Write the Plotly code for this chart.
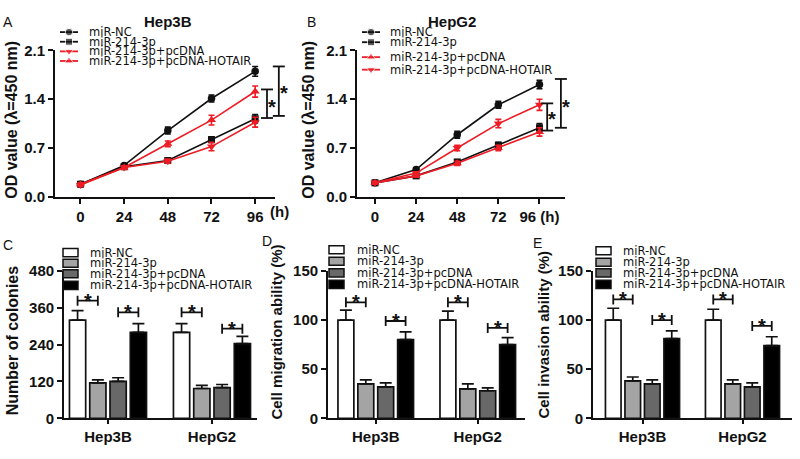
import plotly.graph_objects as go

W, H = 800, 459
FONT = "Arial, Liberation Sans, sans-serif"
LEGFONT = "DejaVu Sans, Verdana, sans-serif"
INK = "#111111"
RED = "#ee1c24"

# ---------------- data ----------------
hours = [0, 24, 48, 72, 96]
hour_labels_a = ["0", "24", "48", "72", "96"]
hour_labels_b = ["0", "24", "48", "72", "96 (h)"]
groups = ["miR-NC", "miR-214-3p", "miR-214-3p+pcDNA", "miR-214-3p+pcDNA-HOTAIR"]

# Panel A (Hep3B, OD 450 nm)
a_nc = [0.18, 0.45, 0.95, 1.41, 1.80]
a_nc_err = [0.02, 0.02, 0.05, 0.05, 0.07]
a_214 = [0.18, 0.43, 0.52, 0.82, 1.12]
a_214_err = [0.02, 0.02, 0.03, 0.04, 0.06]
a_pc = [0.17, 0.42, 0.51, 0.72, 1.07]
a_pc_err = [0.02, 0.02, 0.03, 0.06, 0.07]
a_hot = [0.18, 0.42, 0.76, 1.10, 1.51]
a_hot_err = [0.02, 0.02, 0.04, 0.07, 0.08]

# Panel B (HepG2, OD 450 nm)
b_nc = [0.20, 0.39, 0.89, 1.32, 1.61]
b_nc_err = [0.02, 0.02, 0.05, 0.05, 0.06]
b_214 = [0.20, 0.30, 0.50, 0.74, 0.99]
b_214_err = [0.02, 0.02, 0.03, 0.04, 0.06]
b_pc = [0.20, 0.30, 0.48, 0.70, 0.93]
b_pc_err = [0.02, 0.02, 0.03, 0.04, 0.06]
b_hot = [0.20, 0.34, 0.70, 1.05, 1.32]
b_hot_err = [0.02, 0.02, 0.04, 0.06, 0.08]

cells = ["Hep3B", "HepG2"]
# Panel C: number of colonies  [miR-NC, miR-214-3p, +pcDNA, +pcDNA-HOTAIR]
c_hep3b = [320, 115, 120, 280]
c_hep3b_err = [31, 10, 12, 28]
c_hepg2 = [280, 97, 100, 243]
c_hepg2_err = [28, 10, 10, 24]
# Panel D: cell migration ability (%)
d_hep3b = [100, 35, 32, 80]
d_hep3b_err = [10, 4, 4, 8]
d_hepg2 = [100, 30, 28, 75]
d_hepg2_err = [9, 5, 3, 7]
# Panel E: cell invasion ability (%)
e_hep3b = [100, 38, 35, 81]
e_hep3b_err = [12, 4, 4, 8]
e_hepg2 = [100, 35, 32, 74]
e_hepg2_err = [11, 4, 4, 9]

# significance brackets for bar panels: heights [Hep3B pair1, Hep3B pair2, HepG2 pair1, HepG2 pair2]
c_sig = [383, 345, 345, 292]
d_sig = [118, 99, 118, 92]
e_sig = [121, 100, 121, 94]

# significance brackets for line panels: (x in hours, y0, y1, star x, star y)
a_brackets = [(102.5, 1.13, 1.54, 105.3, 1.35), (109.0, 1.16, 1.87, 111.8, 1.55)]
b_brackets = [(100.5, 0.95, 1.34, 103.3, 1.17), (108.5, 0.99, 1.69, 111.6, 1.34)]

bar_colors = ["#ffffff", "#a4a4a4", "#686868", "#000000"]

# ---------------- helpers ----------------
def xdom(a, b):
    return [a / W, b / W]

def ydom(top, bottom):
    return [1 - bottom / H, 1 - top / H]

def px(p):
    return p / W

def py(p):
    return 1 - p / H

fig = go.Figure()

LW = 1.8
tickfont = dict(family=FONT, size=15, color=INK, weight="bold")
axis_common = dict(showline=True, linecolor=INK, linewidth=LW, ticks="outside",
                   ticklen=5, tickwidth=LW, tickcolor=INK, showgrid=False,
                   zeroline=False, tickfont=tickfont, fixedrange=True)

# ---------------- line panels ----------------
def add_lines(xa, ya, series, markers):
    for (vals, errs), (sym, color, size) in zip(series, markers):
        fig.add_trace(go.Scatter(
            x=hours, y=vals, xaxis=xa, yaxis=ya, mode="lines+markers",
            line=dict(color=color, width=1.6),
            marker=dict(symbol=sym, color=color, size=size),
            error_y=dict(type="data", array=errs, color=color, thickness=1.6, width=3),
            showlegend=False, cliponaxis=False))

markers_a = [("circle", INK, 7.5), ("square", INK, 7), ("triangle-down", RED, 8), ("triangle-up", RED, 8)]
markers_b = [("circle", INK, 7.5), ("square", INK, 7), ("triangle-up", RED, 8), ("triangle-down", RED, 8)]

add_lines("x", "y", [(a_nc, a_nc_err), (a_214, a_214_err), (a_pc, a_pc_err), (a_hot, a_hot_err)], markers_a)
add_lines("x2", "y2", [(b_nc, b_nc_err), (b_214, b_214_err), (b_pc, b_pc_err), (b_hot, b_hot_err)], markers_b)

A_RANGE = [-14.0, 106.9]
B_RANGE = [-10.5, 110.9]
od_ticks = [0, 0.7, 1.4, 2.1]
od_text = ["0.0", "0.7", "1.4", "2.1"]

fig.update_layout(
    xaxis=dict(domain=xdom(55, 275), range=A_RANGE, tickvals=hours, ticktext=hour_labels_a, anchor="y", **axis_common),
    yaxis=dict(domain=ydom(43, 195), range=[0, 2.1], tickvals=od_ticks, ticktext=od_text, anchor="x", **axis_common),
    xaxis2=dict(domain=xdom(357, 565), range=B_RANGE, tickvals=hours, ticktext=hour_labels_b, anchor="y2", **axis_common),
    yaxis2=dict(domain=ydom(43, 195), range=[0, 2.1], tickvals=od_ticks, ticktext=od_text, anchor="x2", **axis_common),
)

shapes = []
annotations = []
STAR = dict(family=FONT, size=20, color=INK, weight="bold")

def line_brackets(xa, ya, rng, ymax, brackets):
    for (bx, y0, y1, sx, sy) in brackets:
        fx = (bx - rng[0]) / (rng[1] - rng[0])
        shapes.append(dict(type="line", xref=xa + " domain", yref=ya + " domain",
                           x0=fx, x1=fx, y0=y0 / ymax, y1=y1 / ymax,
                           line=dict(color=INK, width=LW)))
        for yy in (y0, y1):
            shapes.append(dict(type="line", xref=xa + " domain", yref=ya + " domain",
                               xsizemode="pixel", xanchor=fx, x0=-6, x1=6,
                               y0=yy / ymax, y1=yy / ymax, line=dict(color=INK, width=LW)))
        fsx = (sx - rng[0]) / (rng[1] - rng[0])
        annotations.append(dict(xref=xa + " domain", yref=ya + " domain", x=fsx, y=sy / ymax,
                                text="*", showarrow=False, font=STAR,
                                xanchor="center", yanchor="middle", yshift=-4))

line_brackets("x", "y", A_RANGE, 2.1, a_brackets)
line_brackets("x2", "y2", B_RANGE, 2.1, b_brackets)

# ---------------- bar panels ----------------
BARGAP = 0.22
BGG = 0.2
w = 1 - BARGAP
slot = w / 4

def offset(i):
    return -w / 2 + slot * (i + 0.5)

def add_bars(xa, ya, v1, e1, v2, e2):
    for i in range(4):
        fig.add_trace(go.Bar(
            x=cells, y=[v1[i], v2[i]], xaxis=xa, yaxis=ya,
            marker=dict(color=bar_colors[i], line=dict(color=INK, width=1.7)),
            error_y=dict(type="data", symmetric=False, array=[e1[i], e2[i]], arrayminus=[0, 0],
                         color=INK, thickness=1.7, width=6),
            showlegend=False, offsetgroup=str(i)))

add_bars("x3", "y3", c_hep3b, c_hep3b_err, c_hepg2, c_hepg2_err)
add_bars("x4", "y4", d_hep3b, d_hep3b_err, d_hepg2, d_hepg2_err)
add_bars("x5", "y5", e_hep3b, e_hep3b_err, e_hepg2, e_hepg2_err)

bar_x_common = dict(axis_common)
bar_x_common["ticklen"] = 4

fig.update_layout(
    barmode="group", bargap=BARGAP, bargroupgap=BGG,
    xaxis3=dict(domain=xdom(64, 257), range=[-0.423, 1.433], type="category", anchor="y3", **bar_x_common),
    yaxis3=dict(domain=ydom(272, 425), range=[0, 480], tickvals=[0, 120, 240, 360, 480], anchor="x3", **axis_common),
    xaxis4=dict(domain=xdom(328, 525), range=[-0.468, 1.463], type="category", anchor="y4", **bar_x_common),
    yaxis4=dict(domain=ydom(272, 425), range=[0, 150], tickvals=[0, 50, 100, 150], anchor="x4", **axis_common),
    xaxis5=dict(domain=xdom(593, 792), range=[-0.495, 1.495], type="category", anchor="y5", **bar_x_common),
    yaxis5=dict(domain=ydom(272, 425), range=[0, 150], tickvals=[0, 50, 100, 150], anchor="x5", **axis_common),
)

def bar_brackets(xa, ya, sig):
    pairs = [(0, 0, 1), (0, 2, 3), (1, 0, 1), (1, 2, 3)]
    for (cat, i, j), yv in zip(pairs, sig):
        x0 = cat + offset(i)
        x1 = cat + offset(j)
        shapes.append(dict(type="line", xref=xa, yref=ya, x0=x0, x1=x1, y0=yv, y1=yv,
                           line=dict(color=INK, width=LW)))
        for xx in (x0, x1):
            shapes.append(dict(type="line", xref=xa, yref=ya, x0=xx, x1=xx,
                               ysizemode="pixel", yanchor=yv, y0=-5, y1=5,
                               line=dict(color=INK, width=LW)))
        annotations.append(dict(xref=xa, yref=ya, x=(x0 + x1) / 2, y=yv, text="*",
                                showarrow=False, font=STAR,
                                xanchor="center", yanchor="middle", yshift=0))

bar_brackets("x3", "y3", c_sig)
bar_brackets("x4", "y4", d_sig)
bar_brackets("x5", "y5", e_sig)

# ---------------- overlay axis for legend symbols ----------------
fig.update_layout(
    xaxis6=dict(domain=[0, 1], range=[0, W], visible=False, fixedrange=True, anchor="y6"),
    yaxis6=dict(domain=[0, 1], range=[H, 0], visible=False, fixedrange=True, anchor="x6"),
)

legfont = dict(family=LEGFONT, size=11.5, color=INK)

def line_legend(x_line0, x_text, rows, markers):
    for name, r, (sym, color, size) in zip(groups, rows, markers):
        fig.add_trace(go.Scatter(x=[x_line0, x_line0 + 9, x_line0 + 18], y=[r, r, r],
                                 xaxis="x6", yaxis="y6", mode="lines+markers",
                                 line=dict(color=color, width=1.8),
                                 marker=dict(symbol=sym, color=color, size=[0, size, 0]),
                                 showlegend=False, hoverinfo="skip", cliponaxis=False))
        annotations.append(dict(xref="paper", yref="paper", x=px(x_text), y=py(r), text=name,
                                showarrow=False, xanchor="left", yanchor="middle", font=legfont))

line_legend(60, 87, [24, 34, 44, 54], markers_a)
line_legend(362, 388, [24, 34.5, 50, 63], markers_b)

def bar_legend(x0, x_text, rows):
    for name, r, col in zip(groups, rows, bar_colors):
        shapes.append(dict(type="rect", xref="paper", yref="paper",
                           x0=px(x0), x1=px(x0 + 15), y0=py(r + 4.2), y1=py(r - 4.2),
                           fillcolor=col, line=dict(color=INK, width=1.5)))
        annotations.append(dict(xref="paper", yref="paper", x=px(x_text), y=py(r), text=name,
                                showarrow=False, xanchor="left", yanchor="middle", font=legfont))

bar_legend(63, 88, [253, 264, 275, 287])
bar_legend(329, 355, [250, 262, 274, 286])
bar_legend(596, 621, [251, 263, 274, 286])

# ---------------- texts ----------------
def text(x, y, s, size=14, bold=False, angle=0, anchor="center"):
    annotations.append(dict(xref="paper", yref="paper", x=px(x), y=py(y), text=s, showarrow=False,
                            xanchor=anchor, yanchor="middle", textangle=angle,
                            font=dict(family=FONT, size=size, color=INK, weight="bold" if bold else "normal")))

# panel letters
text(8, 14, "A", 14)
text(311, 13, "B", 14)
text(8, 245, "C", 14)
text(267, 241, "D", 14)
text(537, 243, "E", 14)

# panel titles
text(168, 13, "Hep3B", 15, True)
text(452, 13, "HepG2", 15, True)

# (h) unit label for panel A
text(279, 210, "(h)", 15, True)

# y-axis titles
text(12, 115, "OD value (λ=450 nm)", 16, True, -90)
text(309, 115, "OD value (λ=450 nm)", 16, True, -90)
text(12, 345, "Number of colonies", 16, True, -90)
text(277, 336, "Cell migration ability (%)", 15, True, -90)
text(543, 338, "Cell invasion ability (%)", 15, True, -90)

fig.update_layout(
    width=W, height=H, margin=dict(l=0, r=0, t=0, b=0),
    paper_bgcolor="white", plot_bgcolor="rgba(0,0,0,0)",
    showlegend=False, shapes=shapes, annotations=annotations,
    font=dict(family=FONT, color=INK),
)

fig.write_html("out.html", config={"displayModeBar": False},
               post_script="document.body.style.margin='0px';document.body.style.overflow='hidden';")
